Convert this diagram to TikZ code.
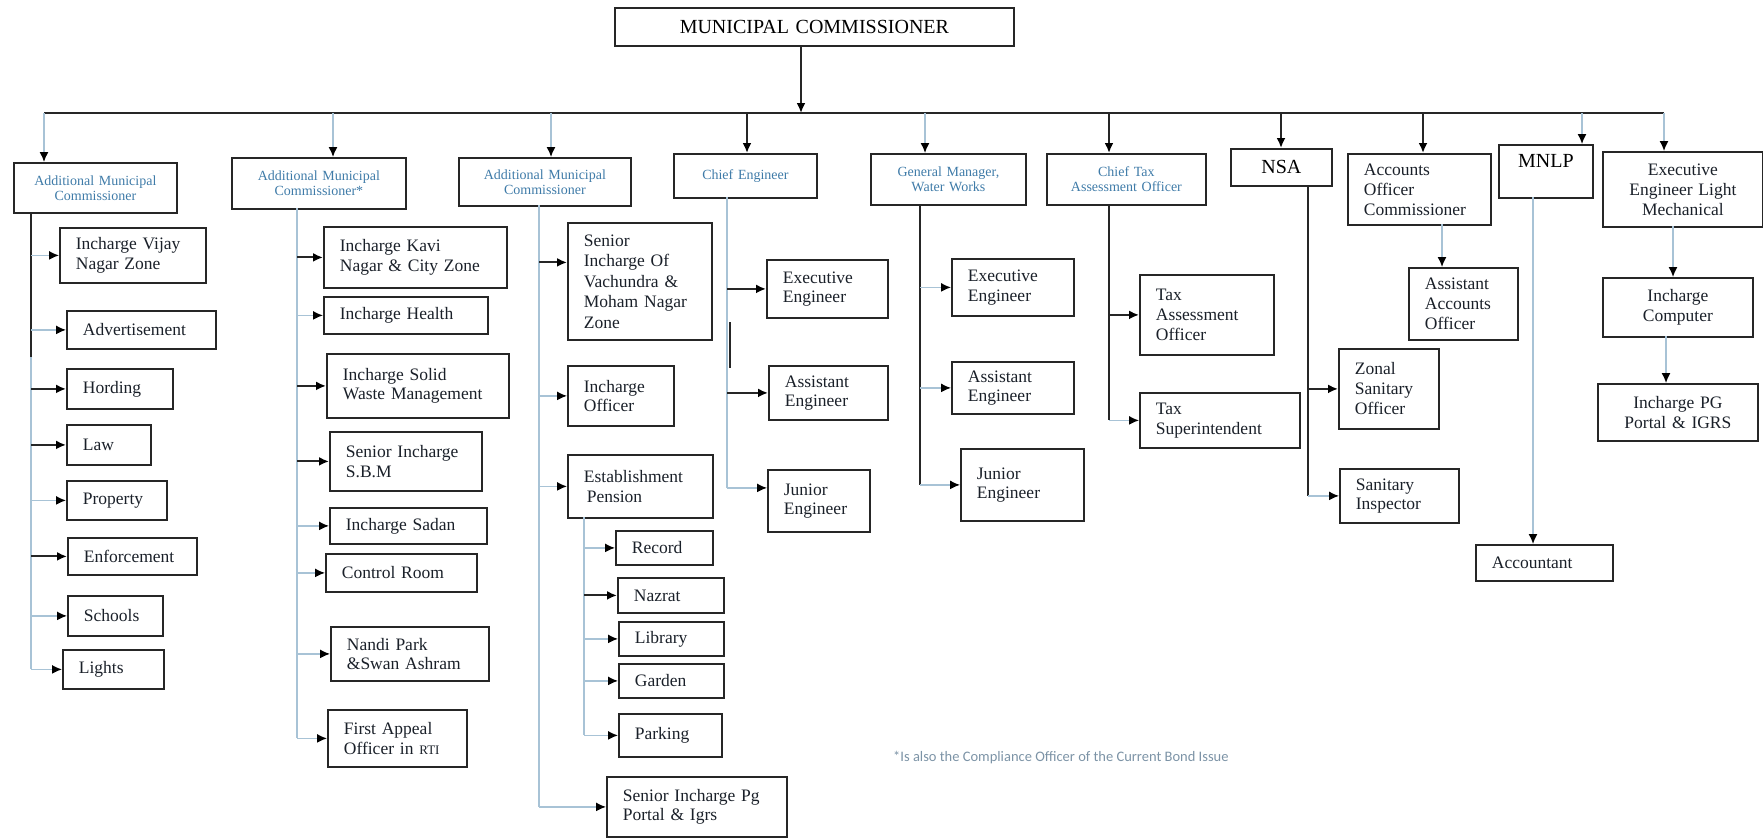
\documentclass[tikz,border=0pt]{standalone}
\usepackage{fontspec}
\setmainfont{Liberation Serif}
\newfontfamily\notefont{Carlito}
\usetikzlibrary{arrows.meta}
\definecolor{ink}{HTML}{1A2029}
\definecolor{headblue}{HTML}{3F7BA8}
\definecolor{pale}{HTML}{A8C3D6}
\definecolor{notegray}{HTML}{7C93A6}

\begin{document}
\begin{tikzpicture}[x=1pt,y=-1pt,
  box/.style 2 args={draw=black!85, line width=1.8pt, anchor=north west,
    minimum width=#1pt, minimum height=#2pt, text width=#1pt-32pt,
    inner xsep=16pt, inner ysep=0pt, align=left, text=ink,
    font=\fontsize{17.5}{19.5}\selectfont},
  head/.style 2 args={box={#1}{#2}, align=center, text=headblue,
    font=\fontsize{14}{15}\selectfont},
  big/.style={text=black, font=\fontsize{20}{22}\selectfont},
  dark/.style={line width=2pt, draw=black!85},
  faded/.style={line width=1.4pt, draw=pale},
  darkarr/.style={dark, -{Latex[length=10pt,width=9pt,color=black]}},
  palearr/.style={faded, -{Latex[length=10pt,width=9pt,color=black]}}]
\useasboundingbox (0,0) rectangle (1763,838);

% top
\node[head={399}{38}, big] (mc) at (614,7) {MUNICIPAL COMMISSIONER};
\coordinate (bus) at (801,113);
\draw[darkarr] (mc.south -| bus) -- (bus);

% first row
\node[head={163}{50}] (amc1) at (13,162) {Additional Municipal\\Commissioner};
\node[head={174}{51}] (amc2) at (231,157) {Additional Municipal\\Commissioner*};
\node[head={172}{48}] (amc3) at (458,157) {Additional Municipal\\Commissioner};
\node[head={143}{44}] (ce) at (673,153) {Chief Engineer};
\node[head={155}{51}] (gm) at (870,153) {General Manager,\\Water Works};
\node[head={159}{51}] (ct) at (1046,153) {Chief Tax\\Assessment Officer};
\node[head={101}{37}, big] (nsa) at (1230,148) {NSA};
\node[box={143}{71}, font=\fontsize{17.5}{20}\selectfont] (acc) at (1347,153) {Accounts\\Officer\\Commissioner};
\node[head={94}{53}, big, text depth=20pt] (mnlp) at (1498,144) {MNLP};
\node[box={160}{75}, align=center, font=\fontsize{17.5}{20}\selectfont] (elm) at (1602,151) {Executive\\Engineer Light\\Mechanical};

\coordinate (b1) at (44,113);
\coordinate (b2) at (333,113);
\coordinate (b3) at (551,113);
\coordinate (b4) at (747,113);
\coordinate (b5) at (925,113);
\coordinate (b6) at (1109,113);
\coordinate (b7) at (1281,113);
\coordinate (b8) at (1423,113);
\coordinate (b9) at (1582,113);
\coordinate (b10) at (1664,113);
\draw[dark] (b1) -- (b10);
\draw[palearr] (b1) -- (b1 |- amc1.north);
\draw[palearr] (b2) -- (b2 |- amc2.north);
\draw[palearr] (b3) -- (b3 |- amc3.north);
\draw[darkarr] (b4) -- (b4 |- ce.north);
\draw[palearr] (b5) -- (b5 |- gm.north);
\draw[darkarr] (b6) -- (b6 |- ct.north);
\draw[darkarr] (b7) -- (b7 |- nsa.north);
\draw[darkarr] (b8) -- (b8 |- acc.north);
\draw[palearr] (b9) -- (b9 |- mnlp.north);
\draw[palearr] (b10) -- (b10 |- elm.north);

% additional municipal commissioner 1
\node[box={146}{55}] (vijay) at (59,227) {Incharge Vijay\\Nagar Zone};
\node[box={149}{38}] (advt) at (66,310) {Advertisement};
\node[box={106}{40}] (hord) at (66,368) {Hording};
\node[box={84}{40}] (law) at (66,424) {Law};
\node[box={100}{39}] (prop) at (66,480) {Property};
\node[box={129}{37}] (enf) at (67,537) {Enforcement};
\node[box={95}{40}] (sch) at (67,595) {Schools};
\node[box={101}{39}] (lig) at (62,649) {Lights};
\coordinate (t1) at (31,212);
\coordinate (t1m) at (31,357);
\draw[dark] (t1) -- (t1m);
\draw[faded] (t1m) -- (t1 |- lig.west);
\draw[palearr] (t1 |- vijay.west) -- (vijay.west);
\draw[palearr] (t1 |- advt.west) -- (advt.west);
\draw[darkarr] (t1 |- hord.west) -- (hord.west);
\draw[darkarr] (t1 |- law.west) -- (law.west);
\draw[palearr] (t1 |- prop.west) -- (prop.west);
\draw[darkarr] (t1 |- enf.west) -- (enf.west);
\draw[palearr] (t1 |- sch.west) -- (sch.west);
\draw[palearr] (t1 |- lig.west) -- (lig.west);

% additional municipal commissioner 2
\node[box={183}{61}] (kavi) at (323,226) {Incharge Kavi\\Nagar \& City Zone};
\node[box={164}{37}] (health) at (323,296) {Incharge Health};
\node[box={182}{64}] (solid) at (326,353) {Incharge Solid\\Waste Management};
\node[box={152}{59}] (sbm) at (329,431) {Senior Incharge\\S.B.M};
\node[box={157}{36}] (sadan) at (329,507) {Incharge Sadan};
\node[box={151}{38}] (ctrl) at (325,553) {Control Room};
\node[box={158}{54}] (nandi) at (330,626) {Nandi Park\\\&Swan Ashram};
\node[box={139}{57}] (rti) at (327,709) {First Appeal\\Officer in {\fontsize{13}{13}\selectfont RTI}};
\coordinate (t2) at (297,208);
\draw[faded] (t2) -- (t2 |- rti.west);
\draw[darkarr] (t2 |- kavi.west) -- (kavi.west);
\draw[palearr] (t2 |- health.west) -- (health.west);
\draw[darkarr] (t2 |- solid.west) -- (solid.west);
\draw[darkarr] (t2 |- sbm.west) -- (sbm.west);
\draw[palearr] (t2 |- sadan.west) -- (sadan.west);
\draw[palearr] (t2 |- ctrl.west) -- (ctrl.west);
\draw[palearr] (t2 |- nandi.west) -- (nandi.west);
\draw[palearr] (t2 |- rti.west) -- (rti.west);

% additional municipal commissioner 3
\node[box={144}{117}, font=\fontsize{17.5}{20.5}\selectfont] (senior) at (567,222) {Senior\\Incharge Of\\Vachundra \&\\Moham Nagar\\Zone};
\node[box={106}{60}] (ioff) at (567,365) {Incharge\\Officer};
\node[box={145}{63}] (estab) at (567,454) {Establishment\\\,Pension};
\node[box={97}{34}] (record) at (615,530) {Record};
\node[box={106}{35}] (nazrat) at (617,577) {Nazrat};
\node[box={105}{34}] (library) at (618,621) {Library};
\node[box={105}{34}] (garden) at (618,663) {Garden};
\node[box={103}{43}] (parking) at (618,713) {Parking};
\node[box={180}{60}] (pgportal) at (606,776) {Senior Incharge Pg\\Portal \& Igrs};
\coordinate (t3) at (539,205);
\coordinate (senin) at ([yshift=19pt]senior.west);
\draw[faded] (t3) -- (t3 |- pgportal.west);
\draw[darkarr] (t3 |- senin) -- (senin);
\draw[palearr] (t3 |- ioff.west) -- (ioff.west);
\draw[palearr] (t3 |- estab.west) -- (estab.west);
\draw[palearr] (t3 |- pgportal.west) -- (pgportal.west);
\coordinate (t3s) at (584,517);
\draw[faded] (t3s) -- (t3s |- parking.west);
\draw[palearr] (t3s |- record.west) -- (record.west);
\draw[darkarr] (t3s |- nazrat.west) -- (nazrat.west);
\draw[palearr] (t3s |- library.west) -- (library.west);
\draw[palearr] (t3s |- garden.west) -- (garden.west);
\draw[palearr] (t3s |- parking.west) -- (parking.west);

% chief engineer
\node[box={121}{58}] (ceexe) at (766,259) {Executive\\Engineer};
\node[box={119}{54}] (ceasst) at (768,365) {Assistant\\Engineer};
\node[box={102}{62}] (cejr) at (767,469) {Junior\\Engineer};
\coordinate (t4) at (727,197);
\coordinate (cein) at ([yshift=13pt]cejr.west);
\coordinate (t4a) at (730,322);
\coordinate (t4b) at (730,368);
\draw[faded] (t4) -- (t4 |- cein);
\draw[dark, line width=2.6pt] (t4a) -- (t4b);
\draw[darkarr] (t4 |- ceexe.west) -- (ceexe.west);
\draw[darkarr] (t4 |- ceasst.west) -- (ceasst.west);
\draw[palearr] (t4 |- cein) -- (cein);

% general manager water works
\node[box={122}{57}] (gmexe) at (951,258) {Executive\\Engineer};
\node[box={122}{52}] (gmasst) at (951,361) {Assistant\\Engineer};
\node[box={123}{72}] (gmjr) at (960,448) {Junior\\Engineer};
\coordinate (t5) at (920,204);
\draw[dark] (t5) -- (t5 |- gmjr.west);
\draw[palearr] (t5 |- gmexe.west) -- (gmexe.west);
\draw[palearr] (t5 |- gmasst.west) -- (gmasst.west);
\draw[palearr] (t5 |- gmjr.west) -- (gmjr.west);

% chief tax assessment officer
\node[box={134}{80}, font=\fontsize{17.5}{20}\selectfont] (tao) at (1139,274) {Tax\\Assessment\\Officer};
\node[box={160}{55}] (ts) at (1139,392) {Tax\\Superintendent};
\coordinate (t6) at (1109,204);
\draw[dark] (t6) -- (t6 |- ts.west);
\draw[darkarr] (t6 |- tao.west) -- (tao.west);
\draw[palearr] (t6 |- ts.west) -- (ts.west);

% nsa
\node[box={100}{80}, font=\fontsize{17.5}{20}\selectfont] (zonal) at (1338,348) {Zonal\\Sanitary\\Officer};
\node[box={119}{54}] (sanins) at (1339,468) {Sanitary\\Inspector};
\coordinate (t7) at (1308,185);
\draw[dark] (t7) -- (t7 |- sanins.west);
\draw[darkarr] (t7 |- zonal.west) -- (zonal.west);
\draw[palearr] (t7 |- sanins.west) -- (sanins.west);

% accounts, mnlp, light
\node[box={109}{72}, font=\fontsize{17.5}{20}\selectfont] (aao) at (1408,267) {Assistant\\Accounts\\Officer};
\node[box={137}{36}] (acct) at (1475,544) {Accountant};
\node[box={150}{59}, align=center] (icomp) at (1602,277) {Incharge\\Computer};
\node[box={160}{57}, align=center] (pg) at (1597,383) {Incharge PG\\Portal \& IGRS};
\coordinate (d8) at (1442,224);
\coordinate (d9) at (1533,197);
\coordinate (d10) at (1673,226);
\coordinate (d11) at (1666,336);
\draw[palearr] (d8) -- (d8 |- aao.north);
\draw[palearr] (d9) -- (d9 |- acct.north);
\draw[palearr] (d10) -- (d10 |- icomp.north);
\draw[palearr] (d11) -- (d11 |- pg.north);

\node[anchor=west, inner sep=0pt, text=notegray, font=\notefont\fontsize{14.5}{15}\selectfont] (note) at (893,758) {*Is also the Compliance Officer of the Current Bond Issue};
\end{tikzpicture}
\end{document}
